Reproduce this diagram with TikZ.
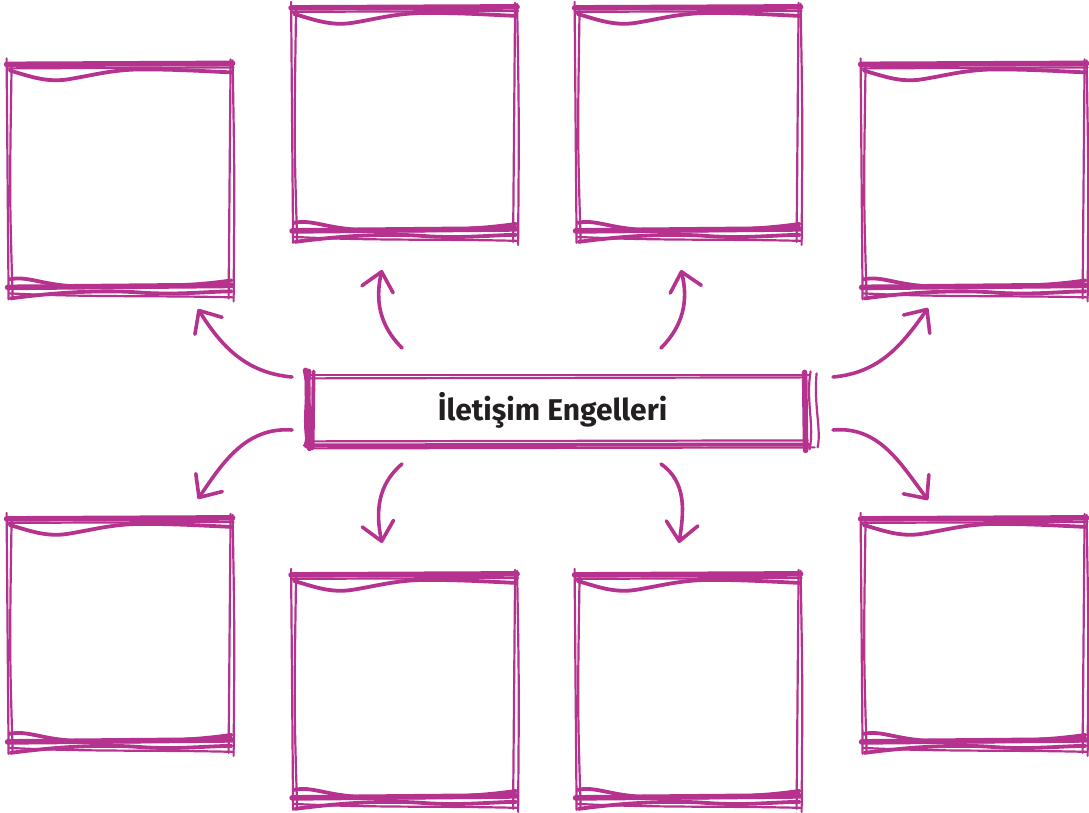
\documentclass[tikz,border=0pt]{standalone}
\usepackage{fontspec}
\setmainfont{Fira Sans}
\usepackage{tikz}
\usetikzlibrary{arrows.meta,positioning}

\definecolor{sketchpink}{HTML}{B5338F}
\definecolor{inkgray}{HTML}{231F20}

\tikzset{
    panel/.style={minimum width=112pt, minimum height=116.5pt, inner sep=0pt},
    topicbar/.style={minimum width=257.5pt, minimum height=35pt, inner sep=0pt},
    topictext/.style={font=\bfseries\fontsize{15}{18}\selectfont, text=inkgray, xshift=-4pt},
    thinstroke/.style={draw=sketchpink, line width=1.1pt, line cap=round},
    thickstroke/.style={draw=sketchpink, line width=2.8pt, line cap=round},
    wavestroke/.style={draw=sketchpink, line width=1.9pt, line cap=round},
    pointer/.style={draw=sketchpink, line width=1.8pt, line cap=round,
        -{Straight Barb[length=9pt, width=16pt, round]}}
}

\begin{document}
\begin{tikzpicture}[x=0.5pt, y=0.5pt]
    \useasboundingbox (0,0) rectangle (1089,813);

    % centre bar
    \node[topicbar, label={[topictext]center:İletişim Engelleri}] (topic) at (560.5,403) {};

    % empty panels
    \node[panel] (b1) at (120,634.5) {};
    \node[panel] (b2) at (404.5,691) {};
    \node[panel] (b3) at (688,691) {};
    \node[panel] (b4) at (974,634.5) {};
    \node[panel] (b5) at (120,180) {};
    \node[panel] (b6) at (404.5,124) {};
    \node[panel] (b7) at (688,124) {};
    \node[panel] (b8) at (974,180) {};

    % hand drawn frames
    \foreach \b in {b1,b2,b3,b4,b5,b6,b7,b8} {
        \begin{scope}[shift={(\b.south west)}]
            \draw[thinstroke] (1,-4) -- (-1,237);
            \draw[thinstroke] (5,-1) .. controls (2,100) .. (4,232);
            \draw[thinstroke] (221,-3) -- (223,236);
            \draw[thinstroke] (226,-6) .. controls (227,120) .. (225,235);
            \draw[thickstroke] (-1,231) -- (225,232);
            \draw[thinstroke] (0,227) -- (226,228);
            \draw[wavestroke] (2,225) .. controls (25,218) and (40,213) .. (60,216)
                .. controls (85,220) and (105,226) .. (135,226)
                .. controls (170,226) and (200,224) .. (224,223);
            \draw[wavestroke] (2,16) .. controls (20,20) and (35,10) .. (70,9)
                .. controls (140,7) and (190,10) .. (224,15);
            \draw[thickstroke] (0,8) -- (224,10);
            \draw[wavestroke] (3,-3) .. controls (40,2) and (90,6) .. (130,3)
                .. controls (170,0) and (200,4) .. (224,4);
            \draw[thinstroke] (2,2) .. controls (80,-2) and (150,0) .. (226,-2);
        \end{scope}
    }

    \begin{scope}[shift={(topic.south west)}]
        \draw[thinstroke] (2,70) -- (506,70);
        \draw[thinstroke] (4,67) -- (503,68);
        \draw[wavestroke] (2,0) -- (506,1);
        \draw[thinstroke] (5,-3) -- (512,-2);
        \draw[thinstroke] (4,4) -- (505,5);
        \draw[thickstroke] (3,75) .. controls (9,50) and (0,30) .. (7,-3);
        \draw[thickstroke] (6,74) .. controls (2,45) and (10,25) .. (4,0);
        \draw[wavestroke] (11,74) -- (10,-3);
        \draw[thickstroke] (502,73) -- (503,-5);
        \draw[thinstroke] (508,74) .. controls (503,45) and (512,20) .. (507,-4);
        \draw[thinstroke] (514,72) .. controls (511,40) and (519,15) .. (515,-2);
    \end{scope}

    % arrow ends
    \coordinate (s1) at (292,436);  \coordinate (e1) at (198,504);
    \coordinate (s2) at (402,465);  \coordinate (e2) at (382,543);
    \coordinate (s3) at (661,465);  \coordinate (e3) at (681,543);
    \coordinate (s4) at (833,436);  \coordinate (e4) at (928,505);
    \coordinate (s5) at (292,383);  \coordinate (e5) at (198,314);
    \coordinate (s6) at (402,349);  \coordinate (e6) at (382,270);
    \coordinate (s7) at (661,349);  \coordinate (e7) at (679,270);
    \coordinate (s8) at (833,383);  \coordinate (e8) at (928,313);

    \draw[pointer] (s1) to[out=175, in=-58] (e1);
    \draw[pointer] (s2) to[out=135, in=-103] (e2);
    \draw[pointer] (s3) to[out=45, in=-76] (e3);
    \draw[pointer] (s4) to[out=5, in=-125] (e4);
    \draw[pointer] (s5) to[out=176, in=56] (e5);
    \draw[pointer] (s6) to[out=-140, in=102] (e6);
    \draw[pointer] (s7) to[out=-35, in=81] (e7);
    \draw[pointer] (s8) to[out=5, in=127] (e8);
\end{tikzpicture}
\end{document}
